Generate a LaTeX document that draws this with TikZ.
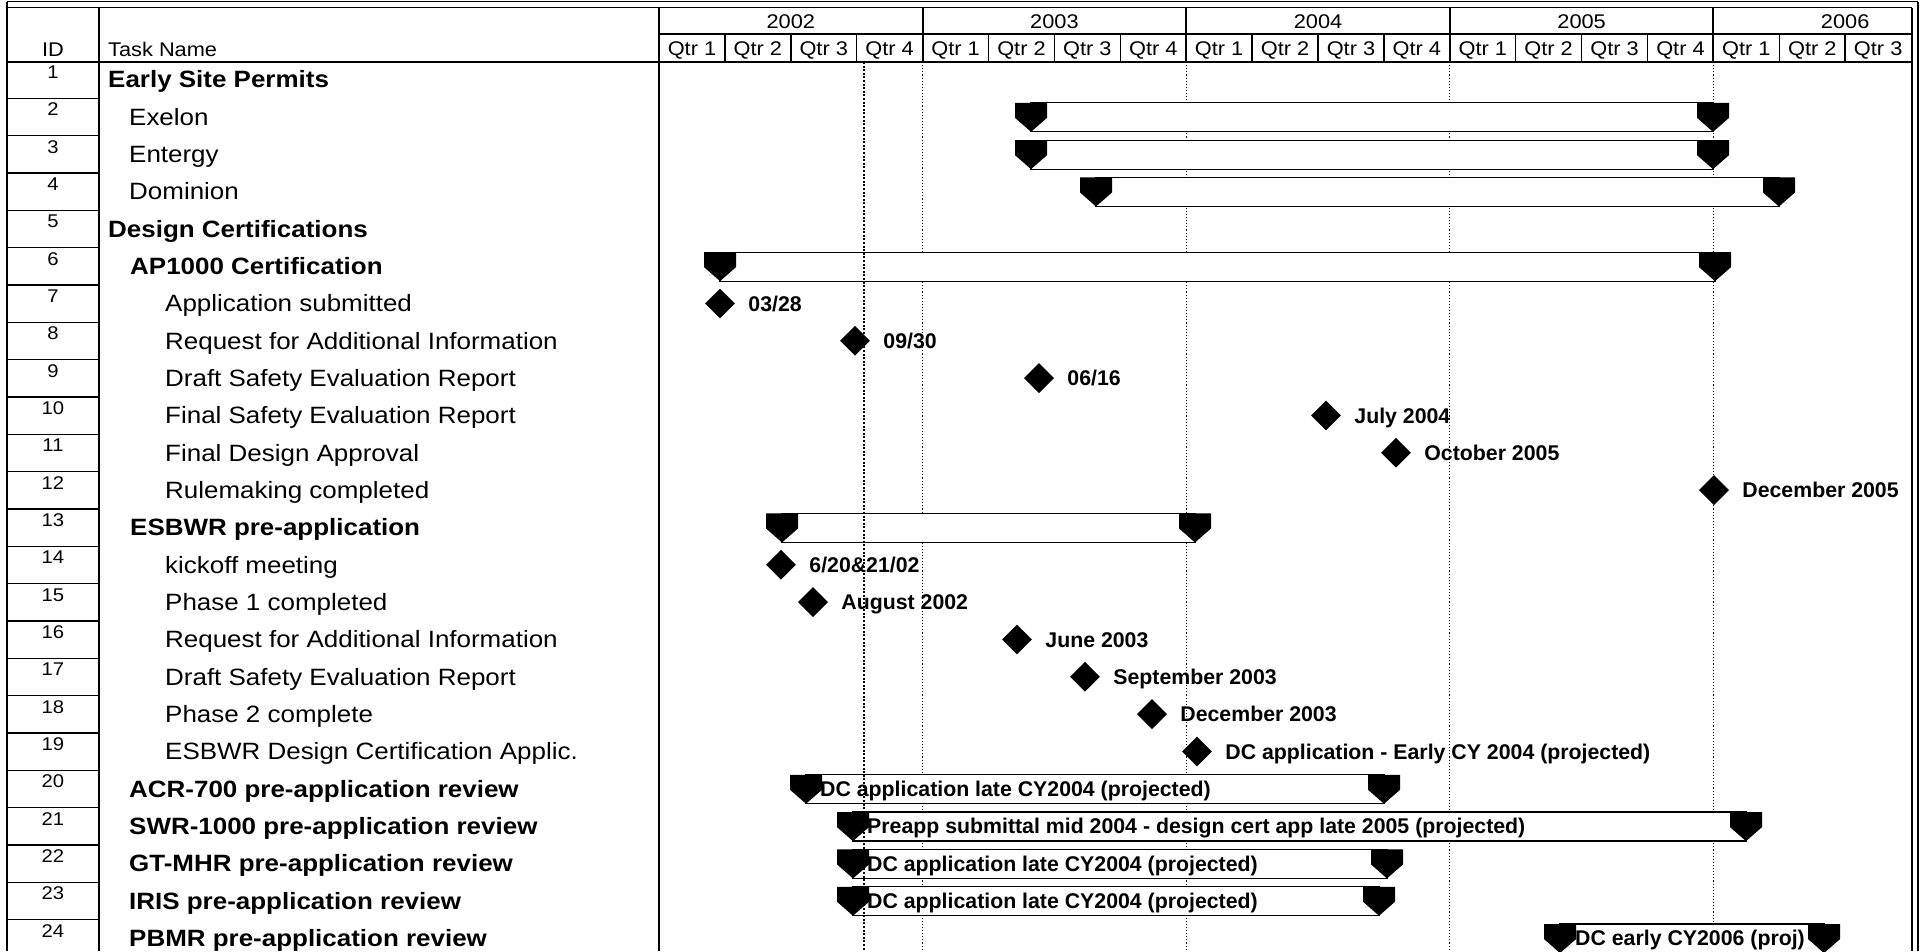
\documentclass[tikz,border=0pt]{standalone}
\usepackage{fontspec}
\setmainfont{Liberation Sans}[FakeStretch=1.1]
\newfontfamily\lblfont{Liberation Sans}
\usetikzlibrary{positioning, shapes.geometric}

\tikzset{
  declare function={rowy(\r)=79.5+37.33*(\r-1); qx(\q)=659+65.9*\q;},
  grid/.style={line width=1.9pt, black},
  cell/.style={line width=1.5pt, black},
  yearline/.style={line width=1.1pt, dotted, black},
  statusline/.style={line width=2.4pt, dash pattern=on 2pt off 1.6pt, black},
  barbox/.style={line width=1.3pt, draw=black, fill=white},
  capfill/.style={fill=black},
  task/.style={anchor=west, inner sep=0pt, text height=16.9pt, text depth=0pt,
    font=\fontsize{23.6}{26}\selectfont},
  taskb/.style={task, font=\bfseries\fontsize{23.6}{26}\selectfont},
  idnum/.style={inner sep=0pt, text height=13.2pt, text depth=0pt,
    font=\fontsize{18.4}{21}\selectfont},
  head/.style={inner sep=0pt, text height=14pt, text depth=0pt,
    font=\fontsize{19.8}{22}\selectfont},
  yearlbl/.style={inner sep=0pt, text height=14pt, text depth=0pt,
    font=\fontsize{19.8}{22}\selectfont},
  mstone/.style={diamond, fill=black, inner sep=0pt,
    minimum width=30pt, minimum height=30pt},
  lbl/.style={inner sep=0pt, text height=15.3pt, text depth=0pt,
    font=\lblfont\bfseries\fontsize{21.3}{24}\selectfont},
}

% black end cap of a summary bar
\newcommand{\sumcap}[2]{%
  \fill[capfill] (#1-16,#2-14) -- (#1+16,#2-14) -- (#1+16,#2+1)
    -- (#1,#2+15) -- (#1-16,#2+1) -- cycle;}

\begin{document}
\begin{tikzpicture}[x=1pt, y=-1pt]
  \useasboundingbox (0,0) rectangle (1923,951);
  \clip (0,0) rectangle (1923,951);

  % Outer frame and table columns
  \draw[grid] (7,1.5) -- (1918,1.5);
  \draw[grid] (7,1.5) -- (7,951);
  \draw[grid] (1918,1.5) -- (1918,951);
  \draw[grid] (7,7.5) -- (1912,7.5);
  \draw[grid] (7,62) -- (1912,62);
  \draw[grid] (99,7.5) -- (99,951);
  \draw[grid] (659,7.5) -- (659,951);
  \draw[grid] (1912,7.5) -- (1912,951);
  \draw[cell] (659,34) -- (1912,34);

  % Header texts
  \node[head] (hid) at (53,49.5) {ID};
  \node[head, anchor=west] (htask) at (108,49.5) {Task Name};

  % Years and quarters
  \foreach \k/\yr in {0/2002,1/2003,2/2004,3/2005,4/2006}{
    \node[yearlbl] (yr\yr) at ({qx(4*\k+2)},21) {\yr};
    \ifnum\k>0 \draw[grid] ({qx(4*\k)},7.5) -- ({qx(4*\k)},62); \fi
  }
  \foreach \q in {0,...,18}{
    \pgfmathtruncatemacro\qn{mod(\q,4)+1}
    \node[head] (qt\q) at ({qx(\q+0.5)},48.5) {Qtr \qn};
    \ifnum\q>0 \draw[cell] ({qx(\q)},34) -- ({qx(\q)},62); \fi
  }

  % ID cells
  \foreach \r in {1,...,24}{
    \pgfmathsetmacro\yc{rowy(\r)}
    \node[idnum] (id\r) at (53,\yc-7.5) {\r};
    \ifnum\r>1 \draw[cell] (7,\yc-18.5) -- (99,\yc-18.5); \fi
  }

  % Task names
  \foreach \r/\x/\sty/\txt in {
      1/108/taskb/Early Site Permits,
      2/129/task/Exelon,
      3/129/task/Entergy,
      4/129/task/Dominion,
      5/108/taskb/Design Certifications,
      6/130/taskb/AP1000 Certification,
      7/165/task/Application submitted,
      8/165/task/Request for Additional Information,
      9/165/task/Draft Safety Evaluation Report,
      10/165/task/Final Safety Evaluation Report,
      11/165/task/Final Design Approval,
      12/165/task/Rulemaking completed,
      13/130/taskb/ESBWR pre-application,
      14/165/task/kickoff meeting,
      15/165/task/Phase 1 completed,
      16/165/task/Request for Additional Information,
      17/165/task/Draft Safety Evaluation Report,
      18/165/task/Phase 2 complete,
      19/165/task/ESBWR Design Certification Applic.,
      20/129/taskb/ACR-700 pre-application review,
      21/129/taskb/SWR-1000 pre-application review,
      22/129/taskb/GT-MHR pre-application review,
      23/129/taskb/IRIS pre-application review,
      24/129/taskb/PBMR pre-application review}{
    \node[\sty] (task\r) at (\x,{rowy(\r)}) {\txt};
  }

  % Year lines in the chart
  \foreach \k in {1,...,4}
    \draw[yearline] ({qx(4*\k)},62) -- ({qx(4*\k)},951);

  % Summary bars
  \foreach \r/\xa/\xb in {2/1031/1713, 3/1031/1713, 4/1096/1779,
      6/720/1715, 13/782/1195, 20/806/1384, 21/853/1746,
      22/853/1387, 23/853/1379, 24/1560/1824}{
    \pgfmathsetmacro\yc{rowy(\r)}
    \draw[barbox] (\xa,\yc-14) rectangle (\xb,\yc+15);
    \sumcap{\xa}{\yc}
    \sumcap{\xb}{\yc}
  }

  % Texts inside the bars
  \foreach \r/\x/\txt in {
      20/820/{DC application late CY2004 (projected)},
      21/867/{Preapp submittal mid 2004 - design cert app late 2005 (projected)},
      22/867/{DC application late CY2004 (projected)},
      23/867/{DC application late CY2004 (projected)},
      24/1575/{DC early CY2006 (proj)}}{
    \node[lbl, anchor=west] (bt\r) at (\x,{rowy(\r)}) {\txt};
  }

  % Milestones
  \foreach \r/\x/\txt in {
      7/720/{03/28}, 8/855/{09/30}, 9/1039/{06/16},
      10/1326/{July 2004}, 11/1396/{October 2005},
      12/1714/{December 2005}, 14/781/{6/20\&21/02},
      15/813/{August 2002}, 16/1017/{June 2003},
      17/1085/{September 2003}, 18/1152/{December 2003},
      19/1197/{DC application - Early CY 2004 (projected)}}{
    \node[mstone] (m\r) at (\x,{rowy(\r)}) {};
    \node[lbl, right=13pt of m\r] (ml\r) {\txt};
  }

  % Status date line
  \draw[statusline] (864,62) -- (864,951);
\end{tikzpicture}
\end{document}
